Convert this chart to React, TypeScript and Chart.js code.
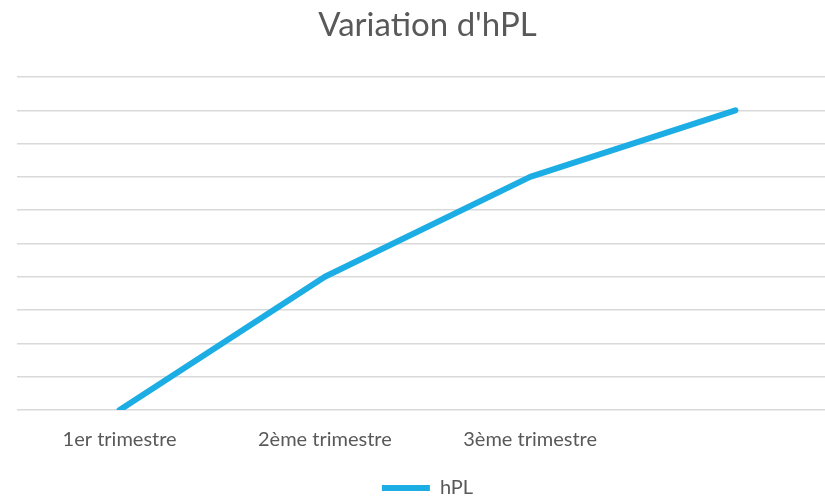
import React, { useEffect, useRef } from "react";
import { Chart, registerables } from "chart.js";

Chart.register(...registerables);

const categories = ["1er trimestre", "2ème trimestre", "3ème trimestre", ""];
const hplValues = [0, 4, 7, 9];
const seriesName = "hPL";
const titleText = "Variation d'hPL";

const BLUE = "#1CADE4";
const TEXT = "#595959";
const GRID = "#D9D9D9";
const FONT = "Lato, 'Open Sans', sans-serif";

export default function App() {
  const ref = useRef<HTMLCanvasElement | null>(null);
  useEffect(() => {
    document.body.style.overflow = "hidden";
    const ctx = ref.current!.getContext("2d")!;
    const chart = new Chart(ctx, {
      type: "line",
      data: {
        labels: categories,
        datasets: [
          {
            label: seriesName,
            data: hplValues,
            borderColor: BLUE,
            backgroundColor: BLUE,
            borderWidth: 6,
            borderCapStyle: "round",
            borderJoinStyle: "round",
            pointRadius: 0,
            tension: 0,
          },
        ],
      },
      options: {
        responsive: false,
        animation: false,
        layout: { padding: { left: 17, right: 2, top: 0, bottom: -11 } },
        plugins: {
          title: {
            display: true,
            text: titleText,
            color: TEXT,
            font: { family: FONT, size: 33, weight: "normal", lineHeight: 1.2 },
            padding: { top: 6, bottom: 31.4 },
          },
          legend: {
            position: "bottom",
            labels: {
              color: TEXT,
              font: { family: FONT, size: 20, lineHeight: 1 },
              boxWidth: 48,
              boxHeight: 6,
              padding: 0,
              generateLabels: (c: any) =>
                c.data.datasets.map((d: any, i: number) => ({
                  text: d.label,
                  fillStyle: BLUE,
                  strokeStyle: BLUE,
                  lineWidth: 0,
                  fontColor: TEXT,
                  datasetIndex: i,
                  hidden: false,
                })),
            },
          },
          tooltip: { enabled: false },
        },
        scales: {
          x: {
            offset: true,
            grid: { display: false, drawTicks: false },
            border: { display: false },
            ticks: {
              color: TEXT,
              font: { family: FONT, size: 20, lineHeight: 1.2 },
              padding: 18,
              maxRotation: 0,
              autoSkip: false,
            },
            afterFit: (scale: any) => {
              scale.height = 68;
            },
          },
          y: {
            min: 0,
            max: 10,
            ticks: { display: false, stepSize: 1 },
            border: { display: false },
            grid: { color: GRID, lineWidth: 1.5, drawTicks: false },
          },
        },
      },
    });
    return () => chart.destroy();
  }, []);
  return (
    <div style={{ position: "fixed", left: 0, top: 0, width: 840, height: 497 }}>
      <canvas ref={ref} width={840} height={497} style={{ width: 840, height: 497 }} />
    </div>
  );
}
